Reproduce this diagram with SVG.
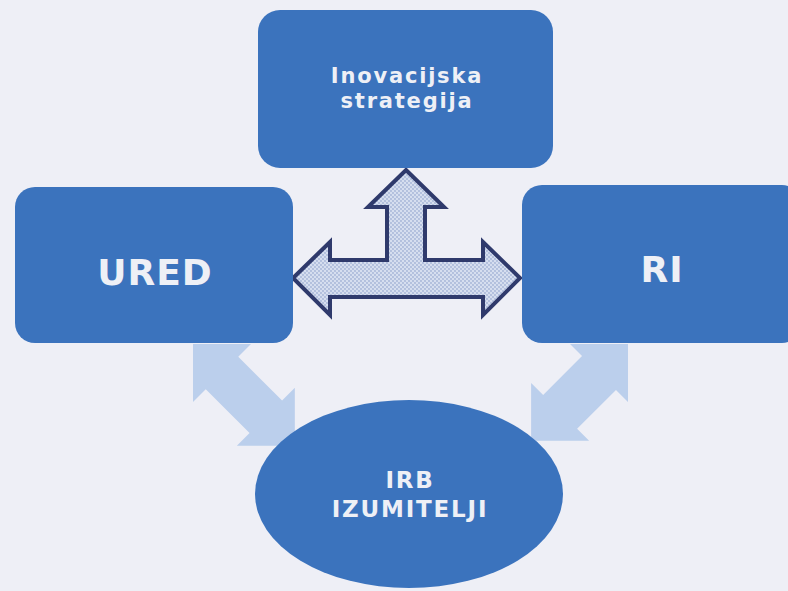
<svg xmlns="http://www.w3.org/2000/svg" width="788" height="591" viewBox="0 0 788 591">
  <style>
    .box { fill: #3b73bd; }
    .lbl { font-family: "DejaVu Sans", "Liberation Sans", sans-serif; font-weight: bold; fill: #eef0f6; text-anchor: middle; }
    .sm { font-size: 21px; letter-spacing: 1.8px; }
    .md { font-size: 23px; letter-spacing: 1.8px; }
    .lg { font-size: 36px; letter-spacing: 1px; }
    .soft { fill: #bbcfec; }
  </style>
  <defs>
    <pattern id="dots" width="4" height="4" patternUnits="userSpaceOnUse">
      <rect width="4" height="4" fill="#d6deef"/>
      <circle cx="1" cy="1" r="0.9" fill="#a3b3d6"/>
      <circle cx="3" cy="3" r="0.9" fill="#a3b3d6"/>
    </pattern>
  </defs>
  <rect width="788" height="591" fill="#eeeff6"/>
  <g id="connectors">
    <polygon class="soft" transform="translate(193,344) rotate(45)" points="0,0 41,-41 41,-23 103,-23 103,-41 144,0 103,41 103,23 41,23 41,41"/>
    <polygon class="soft" transform="translate(628,344) rotate(135)" points="0,0 41,-41 41,-24 96,-24 96,-41 137,0 96,41 96,24 41,24 41,41"/>
    <polygon points="406,170 444,207 425,207 425,260 483,260 483,242 520,278 483,315 483,297 330,297 330,315 293,278 330,242 330,260 387,260 387,207 368,207" fill="url(#dots)" stroke="#2f3a6c" stroke-width="4" stroke-linejoin="miter"/>
  </g>
  <g id="node-strategija">
    <rect class="box" x="258" y="10" width="295" height="158" rx="22"/>
    <text class="lbl sm" x="407" y="83">Inovacijska</text>
    <text class="lbl sm" x="407" y="108">strategija</text>
  </g>
  <g id="node-ured">
    <rect class="box" x="15" y="187" width="278" height="156" rx="20"/>
    <text class="lbl lg" x="155" y="285">URED</text>
  </g>
  <g id="node-ri">
    <rect class="box" x="522" y="185" width="280" height="158" rx="20"/>
    <text class="lbl lg" x="662" y="282">RI</text>
  </g>
  <g id="node-irb">
    <ellipse class="box" cx="409" cy="494" rx="154" ry="94"/>
    <text class="lbl md" x="410" y="488">IRB</text>
    <text class="lbl md" x="410" y="517">IZUMITELJI</text>
  </g>
</svg>
